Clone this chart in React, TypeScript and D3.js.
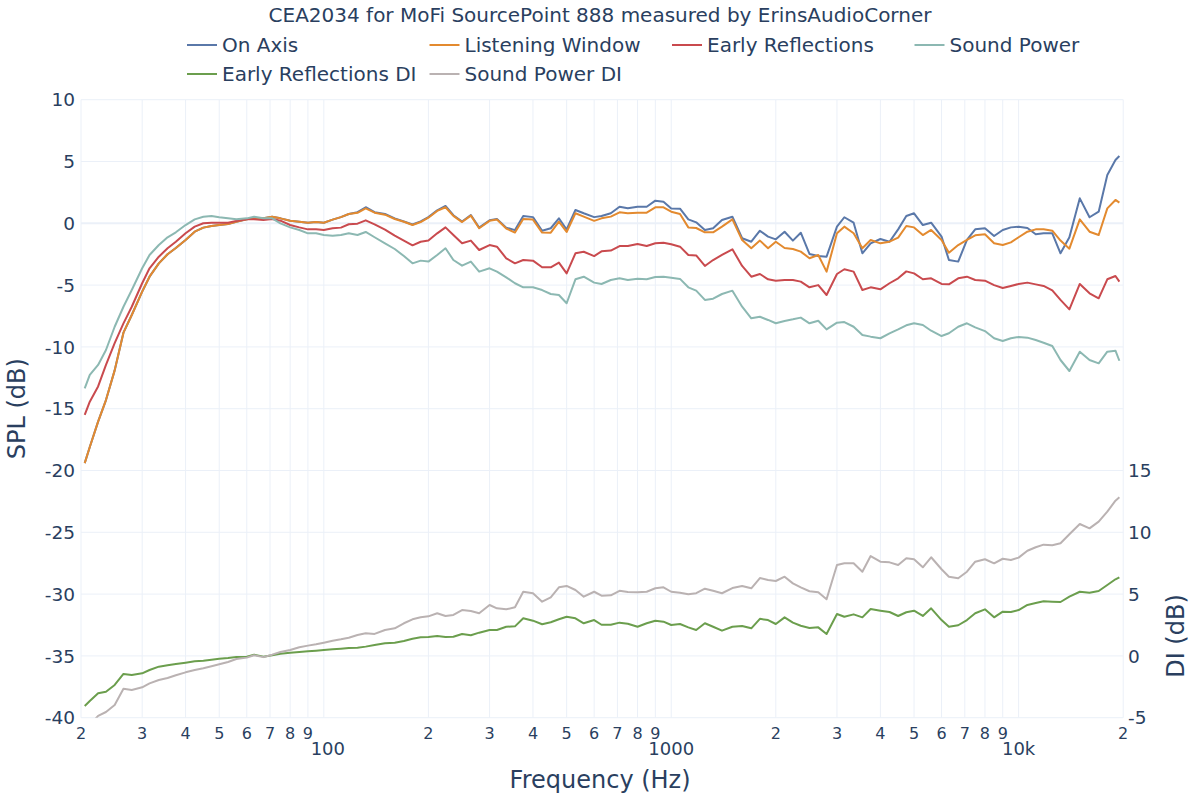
import React, { useEffect, useRef } from 'react';
import * as d3 from 'd3';

// frequencies (Hz), shared by every curve
const freqs = [
  20.5, 21.2, 22.4, 23.6, 25, 26.5, 28, 30, 31.5, 33.5, 35.5, 37.5, 40, 42.5, 45, 47.5, 50, 53, 56, 60,
  63, 67, 71, 75, 80, 85, 90, 95, 100, 106, 112, 118, 125, 132, 140, 150, 160, 170, 180, 190,
  200, 212, 224, 236, 250, 265, 280, 300, 315, 335, 355, 375, 400, 425, 450, 475, 500, 530, 560, 600,
  630, 670, 710, 750, 800, 850, 900, 950, 1000, 1060, 1120, 1180, 1250, 1320, 1400, 1500, 1600, 1700, 1800, 1900,
  2000, 2120, 2240, 2360, 2500, 2650, 2800, 3000, 3150, 3350, 3550, 3750, 4000, 4250, 4500, 4750, 5000, 5300, 5600, 6000,
  6300, 6700, 7100, 7500, 8000, 8500, 9000, 9500, 10000, 10600, 11200, 11800, 12500, 13200, 14000, 15000, 16000, 17000, 18000, 19000,
  19500,
];

const onAxis = [
  -19.4, -18.1, -16.05, -14.3, -11.9, -8.85, -7.42, -5.53, -4.32, -3.24, -2.5, -2.0, -1.35, -0.68, -0.35, -0.22, -0.14, -0.06, 0.13, 0.32,
  0.4, 0.4, 0.53, 0.4, 0.21, 0.13, 0.05, 0.1, 0.05, 0.3, 0.5, 0.75, 0.9, 1.3, 0.9, 0.75, 0.4, 0.15, -0.1, 0.15,
  0.5, 1.05, 1.4, 0.65, 0.15, 0.67, -0.35, 0.25, 0.35, -0.35, -0.55, 0.6, 0.5, -0.6, -0.4, 0.4, -0.5, 1.08, 0.81, 0.5,
  0.59, 0.81, 1.34, 1.21, 1.34, 1.34, 1.83, 1.75, 1.2, 1.18, 0.32, 0.08, -0.54, -0.4, 0.27, 0.53, -1.21, -1.49, -0.6, -1.08,
  -1.3, -0.68, -1.4, -0.76, -2.48, -2.65, -2.7, -0.27, 0.49, 0.05, -2.43, -1.62, -1.27, -1.49, -0.49, 0.59, 0.81, -0.14, 0.05, -1.08,
  -2.97, -3.1, -1.35, -0.49, -0.4, -1.03, -0.54, -0.33, -0.27, -0.38, -0.89, -0.81, -0.81, -2.43, -1.13, 2.02, 0.49, 0.94, 3.91, 5.12,
  5.45,
];

const listeningWindow = [
  -19.4, -18.1, -16.05, -14.3, -11.9, -8.85, -7.42, -5.53, -4.32, -3.24, -2.5, -2.0, -1.35, -0.68, -0.35, -0.22, -0.14, -0.06, 0.13, 0.32,
  0.4, 0.4, 0.53, 0.4, 0.21, 0.13, 0.05, 0.1, 0.05, 0.3, 0.5, 0.75, 0.85, 1.2, 0.86, 0.7, 0.35, 0.13, -0.14, 0.1,
  0.45, 1.0, 1.3, 0.6, 0.1, 0.62, -0.4, 0.2, 0.3, -0.42, -0.75, 0.35, 0.3, -0.75, -0.76, 0.13, -0.7, 0.81, 0.54, 0.2,
  0.4, 0.54, 0.89, 0.81, 0.86, 0.86, 1.29, 1.29, 0.94, 0.75, -0.33, -0.38, -0.73, -0.73, -0.27, 0.32, -1.35, -2.02, -1.4, -2.02,
  -1.49, -2.0, -2.08, -2.29, -2.83, -2.56, -3.91, -0.81, -0.27, -0.81, -2.02, -1.35, -1.62, -1.49, -1.16, -0.22, -0.33, -0.95, -0.54, -1.35,
  -2.38, -1.76, -1.35, -0.97, -0.89, -1.62, -1.76, -1.54, -1.13, -0.68, -0.49, -0.49, -0.6, -1.4, -2.05, 0.32, -0.68, -0.95, 1.21, 1.89,
  1.67,
];

const earlyReflections = [
  -15.5, -14.43, -13.2, -11.46, -9.7, -8.1, -6.75, -4.85, -3.64, -2.7, -2.02, -1.49, -0.81, -0.27, 0, 0.05, 0.05, 0.05, 0.19, 0.32,
  0.32, 0.27, 0.35, 0.21, -0.14, -0.33, -0.49, -0.49, -0.54, -0.4, -0.35, -0.08, -0.03, 0.24, -0.08, -0.52, -1.0, -1.4, -1.78, -1.49,
  -1.4, -0.81, -0.33, -0.95, -1.62, -1.4, -2.16, -1.76, -1.89, -2.83, -3.24, -2.97, -3.02, -3.56, -3.56, -3.18, -4.05, -2.43, -2.3, -2.65,
  -2.27, -2.21, -1.84, -1.84, -1.67, -1.84, -1.62, -1.57, -1.7, -1.89, -2.56, -2.6, -3.45, -2.97, -2.56, -2.1, -3.45, -4.32, -4.1, -4.53,
  -4.64, -4.59, -4.59, -4.72, -5.18, -5.0, -5.8, -4.1, -3.72, -3.91, -5.4, -5.18, -5.34, -4.85, -4.45, -3.89, -4.05, -4.53, -4.45, -4.91,
  -4.94, -4.45, -4.32, -4.59, -4.64, -5.0, -5.23, -5.07, -4.91, -4.8, -4.94, -5.07, -5.42, -6.2, -6.96, -4.91, -5.66, -6.07, -4.53, -4.26,
  -4.72,
];

const soundPower = [
  -13.35, -12.27, -11.46, -10.25, -8.37, -6.75, -5.4, -3.64, -2.56, -1.76, -1.13, -0.73, -0.14, 0.32, 0.53, 0.59, 0.49, 0.4, 0.32, 0.4,
  0.53, 0.4, 0.4, 0, -0.33, -0.54, -0.81, -0.81, -0.95, -1.0, -0.95, -0.81, -0.95, -0.7, -1.13, -1.62, -2.08, -2.65, -3.24, -3.02,
  -3.1, -2.56, -2.02, -2.97, -3.43, -3.1, -3.91, -3.64, -3.91, -4.37, -4.85, -5.18, -5.18, -5.4, -5.72, -5.8, -6.47, -4.53, -4.32, -4.8,
  -4.91, -4.59, -4.45, -4.59, -4.48, -4.53, -4.34, -4.32, -4.4, -4.5, -5.18, -5.45, -6.2, -6.1, -5.72, -5.45, -6.75, -7.69, -7.56, -7.82,
  -8.09, -7.9, -7.77, -7.63, -8.09, -7.88, -8.58, -8.04, -7.99, -8.37, -9.04, -9.17, -9.3, -8.9, -8.58, -8.25, -8.09, -8.23, -8.69, -9.12,
  -8.9, -8.37, -8.09, -8.42, -8.72, -9.3, -9.52, -9.3, -9.2, -9.25, -9.44, -9.66, -9.93, -11.06, -11.95, -10.39, -11.06, -11.33, -10.39, -10.31,
  -11.12,
];

const earlyReflectionsDI = [
  -4.05, -3.65, -3.03, -2.9, -2.35, -1.46, -1.55, -1.41, -1.14, -0.87, -0.76, -0.66, -0.55, -0.44, -0.39, -0.31, -0.23, -0.17, -0.09, -0.06,
  0.1, -0.06, 0.05, 0.18, 0.26, 0.31, 0.37, 0.42, 0.48, 0.53, 0.58, 0.64, 0.66, 0.75, 0.88, 1.02, 1.07, 1.2, 1.39, 1.5,
  1.53, 1.61, 1.53, 1.55, 1.77, 1.67, 1.88, 2.1, 2.1, 2.36, 2.39, 3.04, 2.85, 2.56, 2.72, 2.96, 3.17, 3.04, 2.64, 2.9,
  2.52, 2.52, 2.69, 2.6, 2.36, 2.64, 2.85, 2.77, 2.5, 2.58, 2.31, 2.1, 2.64, 2.36, 2.04, 2.36, 2.42, 2.23, 3.0, 2.9,
  2.58, 3.12, 2.69, 2.44, 2.26, 2.31, 1.77, 3.39, 3.17, 3.36, 3.12, 3.79, 3.66, 3.55, 3.23, 3.53, 3.66, 3.23, 3.85, 2.9,
  2.36, 2.48, 2.9, 3.45, 3.77, 3.12, 3.58, 3.55, 3.71, 4.12, 4.28, 4.42, 4.39, 4.36, 4.79, 5.19, 5.11, 5.25, 5.74, 6.2,
  6.36,
];

const soundPowerDI = [
  -6.2, -5.6, -4.85, -4.54, -3.97, -2.65, -2.76, -2.54, -2.22, -1.95, -1.79, -1.57, -1.33, -1.14, -1.0, -0.84, -0.68, -0.49, -0.25, -0.14,
  0.05, -0.1, 0.1, 0.32, 0.48, 0.7, 0.83, 0.94, 1.07, 1.23, 1.34, 1.47, 1.69, 1.83, 1.78, 2.1, 2.23, 2.64, 2.96, 3.12,
  3.2, 3.45, 3.23, 3.31, 3.71, 3.63, 3.45, 4.12, 3.85, 3.77, 3.93, 5.19, 5.06, 4.39, 4.74, 5.55, 5.66, 5.33, 4.79, 5.19,
  4.87, 4.9, 5.27, 5.17, 5.14, 5.19, 5.47, 5.55, 5.19, 5.11, 4.98, 5.07, 5.44, 5.27, 5.07, 5.49, 5.66, 5.47, 6.3, 6.14,
  6.06, 6.41, 5.87, 5.55, 5.23, 5.15, 4.58, 7.35, 7.49, 7.49, 6.81, 8.08, 7.62, 7.57, 7.35, 7.9, 7.82, 7.17, 7.98, 7.01,
  6.41, 6.28, 6.81, 7.62, 7.82, 7.49, 7.86, 7.76, 7.95, 8.51, 8.79, 9.0, 8.95, 9.11, 9.84, 10.67, 10.32, 10.86, 11.67, 12.56,
  12.83,
];

const splTicks = [10, 5, 0, -5, -10, -15, -20, -25, -30, -35, -40];
const diTicks = [15, 10, 5, 0, -5];
const minorTicks = [20, 30, 40, 50, 60, 70, 80, 90, 200, 300, 400, 500, 600, 700, 800, 900,
  2000, 3000, 4000, 5000, 6000, 7000, 8000, 9000, 20000];
const majorTicks = [100, 1000, 10000];
const majorLabels = ['100', '1000', '10k'];

const FONT = "'DejaVu Sans', Verdana, sans-serif";
const TEXT = '#2a3f5f';
const GRID = '#ebf0f8';

const series = [
  { name: 'On Axis', values: onAxis, color: '#5a78a9', axis: 'spl' },
  { name: 'Listening Window', values: listeningWindow, color: '#e38a2f', axis: 'spl' },
  { name: 'Early Reflections', values: earlyReflections, color: '#c94a4e', axis: 'spl' },
  { name: 'Sound Power', values: soundPower, color: '#8cb8b2', axis: 'spl' },
  { name: 'Early Reflections DI', values: earlyReflectionsDI, color: '#6b9e4d', axis: 'di' },
  { name: 'Sound Power DI', values: soundPowerDI, color: '#bab2b2', axis: 'di' },
];

const App: React.FC = () => {
  const svgRef = useRef<SVGSVGElement>(null);

  useEffect(() => {
    if (!svgRef.current) return;
    const svg = d3.select(svgRef.current);
    svg.selectAll('*').remove();

    const left = 81, right = 1123.2, top = 99.7, bottom = 717.7;

    const x = d3.scaleLog().domain([20, 20000]).range([left, right]);
    const y = d3.scaleLinear().domain([-40, 10]).range([bottom, top]);
    const yDI = d3.scaleLinear().domain([-5, 15]).range([bottom, bottom - 20 * (bottom - top) / 50]);

    svg.append('rect').attr('width', 1200).attr('height', 800).attr('fill', '#fff');

    // grid
    const grid = svg.append('g');
    [...minorTicks, ...majorTicks].forEach(f => {
      grid.append('line')
        .attr('x1', x(f)).attr('x2', x(f))
        .attr('y1', top).attr('y2', bottom)
        .attr('stroke', GRID).attr('stroke-width', 1);
    });
    splTicks.forEach(v => {
      grid.append('line')
        .attr('x1', left).attr('x2', right)
        .attr('y1', y(v)).attr('y2', y(v))
        .attr('stroke', GRID).attr('stroke-width', v === 0 ? 2 : 1);
    });

    svg.append('clipPath').attr('id', 'plot-clip')
      .append('rect').attr('x', left).attr('y', top)
      .attr('width', right - left).attr('height', bottom - top);

    const plot = svg.append('g').attr('clip-path', 'url(#plot-clip)');
    series.forEach(s => {
      const yy = s.axis === 'spl' ? y : yDI;
      const line = d3.line<number>()
        .x((_, i) => x(freqs[i]))
        .y(d => yy(d));
      plot.append('path')
        .datum(s.values)
        .attr('d', line)
        .attr('fill', 'none')
        .attr('stroke', s.color)
        .attr('stroke-width', 2)
        .attr('stroke-linejoin', 'round');
    });

    // y tick labels
    splTicks.forEach(v => {
      svg.append('text')
        .attr('x', 75).attr('y', y(v) + 6.7)
        .attr('text-anchor', 'end')
        .style('font-family', FONT).style('font-size', '18.5px').style('fill', TEXT)
        .text(v);
    });
    diTicks.forEach(v => {
      svg.append('text')
        .attr('x', 1128).attr('y', yDI(v) + 6.7)
        .attr('text-anchor', 'start')
        .style('font-family', FONT).style('font-size', '18.5px').style('fill', TEXT)
        .text(v);
    });

    // x tick labels
    minorTicks.forEach(f => {
      svg.append('text')
        .attr('x', x(f)).attr('y', 739)
        .attr('text-anchor', 'middle')
        .style('font-family', FONT).style('font-size', '16px').style('fill', TEXT)
        .text(String(f).charAt(0));
    });
    majorTicks.forEach((f, i) => {
      svg.append('text')
        .attr('x', x(f) + (i === 0 ? 4 : 0)).attr('y', 755)
        .attr('text-anchor', 'middle')
        .style('font-family', FONT).style('font-size', '18px').style('fill', TEXT)
        .text(majorLabels[i]);
    });

    // axis titles
    svg.append('text')
      .attr('x', (left + right) / 2 - 2).attr('y', 788)
      .attr('text-anchor', 'middle')
      .style('font-family', FONT).style('font-size', '24px').style('fill', TEXT)
      .text('Frequency (Hz)');
    svg.append('text')
      .attr('transform', `translate(25, ${(top + bottom) / 2}) rotate(-90)`)
      .attr('text-anchor', 'middle')
      .style('font-family', FONT).style('font-size', '24px').style('fill', TEXT)
      .text('SPL (dB)');
    svg.append('text')
      .attr('transform', `translate(1184, 636) rotate(-90)`)
      .attr('text-anchor', 'middle')
      .style('font-family', FONT).style('font-size', '24px').style('fill', TEXT)
      .text('DI (dB)');

    // title
    svg.append('text')
      .attr('x', 600).attr('y', 22.3)
      .attr('text-anchor', 'middle')
      .style('font-family', FONT).style('font-size', '20px').style('fill', TEXT)
      .text('CEA2034 for MoFi SourcePoint 888 measured by ErinsAudioCorner');

    // legend
    series.forEach((s, i) => {
      const col = i < 4 ? i : i - 4;
      const row = i < 4 ? 0 : 1;
      const lx = 187 + col * 242.5;
      const ly = 45 + row * 29;
      svg.append('line')
        .attr('x1', lx).attr('x2', lx + 30)
        .attr('y1', ly).attr('y2', ly)
        .attr('stroke', s.color).attr('stroke-width', 2);
      svg.append('text')
        .attr('x', lx + 35).attr('y', ly + 7.3)
        .style('font-family', FONT).style('font-size', '20px').style('fill', TEXT)
        .text(s.name);
    });
  }, []);

  return (
    <svg
      ref={svgRef}
      width={1200}
      height={800}
      style={{ position: 'absolute', left: 0, top: 0, background: '#fff' }}
    />
  );
};

export default App;
